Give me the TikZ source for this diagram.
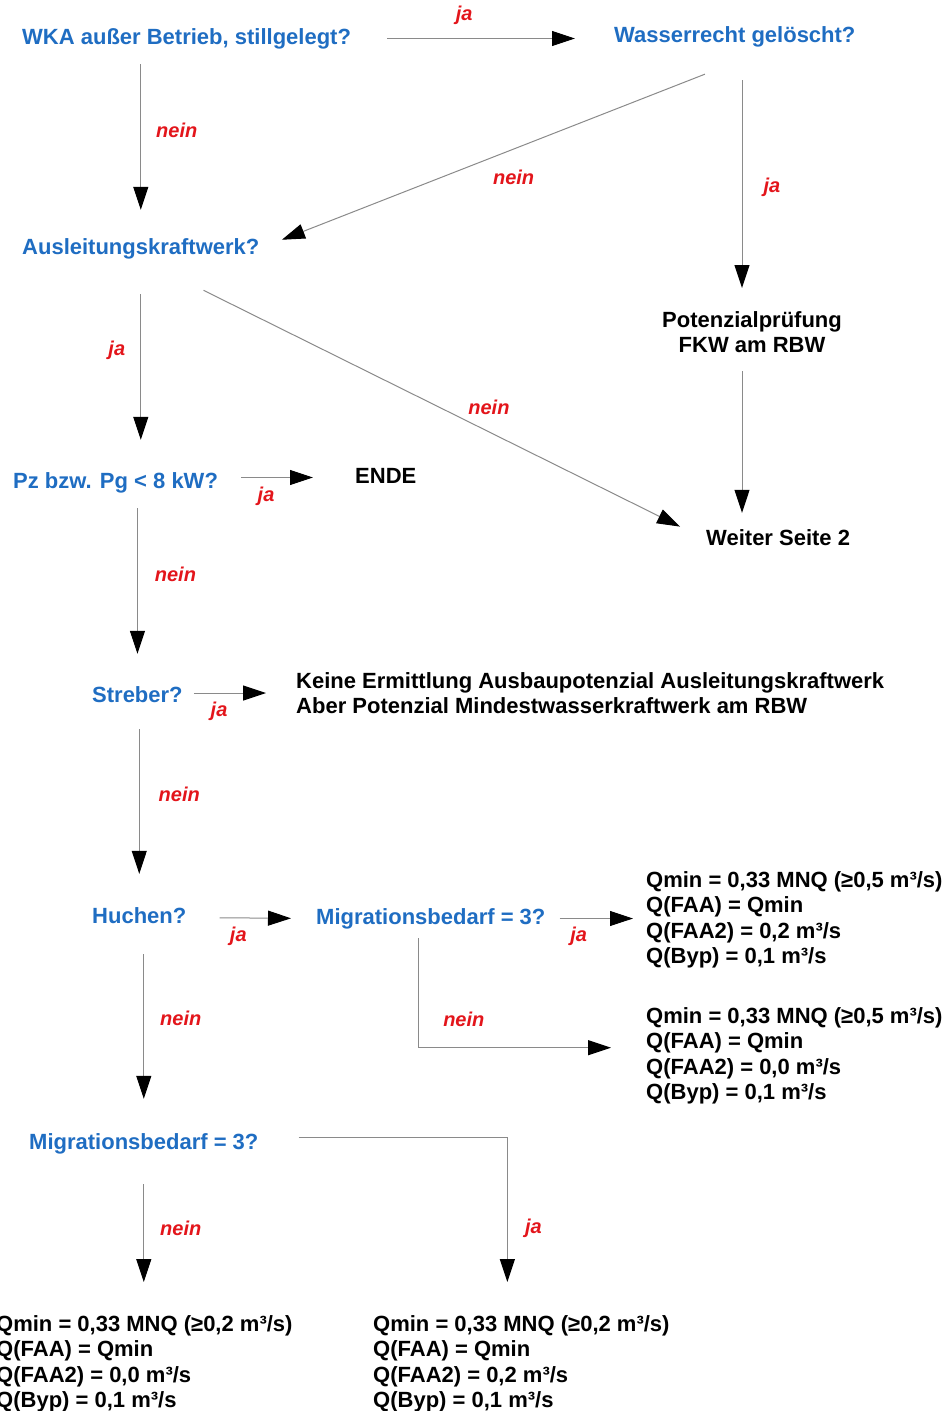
\documentclass[tikz,border=0pt]{standalone}
\usepackage{fontspec}
\setmainfont{Liberation Sans}
\usepackage{tikz}
\usetikzlibrary{arrows.meta}
\definecolor{askblue}{HTML}{1F6DC2}
\definecolor{labelred}{HTML}{E3151B}
\definecolor{linegray}{HTML}{8A8A8A}

\begin{document}
\begin{tikzpicture}[
  x=1pt, y=-1pt,
  base/.style  = {inner sep=0pt, font=\bfseries\fontsize{22}{25.5}\selectfont},
  ask/.style   = {base, text=askblue, text height=16pt, text depth=5pt, anchor=west},
  endtxt/.style = {base, text=black, text height=16pt, text depth=5pt, anchor=west},
  note/.style  = {base, text=black, align=left, anchor=north west},
  lbl/.style   = {inner sep=0pt, text=labelred, font=\bfseries\itshape\fontsize{20}{24}\selectfont},
  flow/.style  = {-{Triangle[length=23pt, width=15pt, color=black]}, draw=linegray, line width=1pt},
]
\useasboundingbox (0,0) rectangle (947,1411);

%% ---------------------------------------------------------------- questions
\node[ask] (wka)    at (22,38.5)   {WKA außer Betrieb, stillgelegt?};
\node[ask] (wasser) at (614,36.5)  {Wasserrecht gelöscht?};
\node[ask] (ausl)   at (22,248.5)  {Ausleitungskraftwerk?};
\node[ask] (pz)     at (13,482.5)  {Pz bzw. Pg < 8 kW?};
\node[ask] (streber) at (92,696.5) {Streber?};
\node[ask] (huchen) at (92,917.5)  {Huchen?};
\node[ask] (migr1)  at (316,918.5) {Migrationsbedarf = 3?};
\node[ask] (migr2)  at (29,1143.5) {Migrationsbedarf = 3?};

%% ---------------------------------------------------------------- results
\node[note, align=center, anchor=north] (pot) at (752,311) {Potenzialprüfung\\FKW am RBW};
\node[endtxt] (weiter) at (706,539.5) {Weiter Seite 2};
\node[endtxt] (ende)   at (355,477.5) {ENDE};
\node[note] (keine) at (296,672) {Keine Ermittlung Ausbaupotenzial Ausleitungskraftwerk\\Aber Potenzial Mindestwasserkraftwerk am RBW};
\node[note] (box1) at (646,871)  {Qmin = 0,33 MNQ (≥0,5 m³/s)\\Q(FAA) = Qmin\\Q(FAA2) = 0,2 m³/s\\Q(Byp) = 0,1 m³/s};
\node[note] (box2) at (646,1007) {Qmin = 0,33 MNQ (≥0,5 m³/s)\\Q(FAA) = Qmin\\Q(FAA2) = 0,0 m³/s\\Q(Byp) = 0,1 m³/s};
\node[note] (box3) at (-4,1315)  {Qmin = 0,33 MNQ (≥0,2 m³/s)\\Q(FAA) = Qmin\\Q(FAA2) = 0,0 m³/s\\Q(Byp) = 0,1 m³/s};
\node[note] (box4) at (373,1315) {Qmin = 0,33 MNQ (≥0,2 m³/s)\\Q(FAA) = Qmin\\Q(FAA2) = 0,2 m³/s\\Q(Byp) = 0,1 m³/s};

%% ---------------------------------------------------------------- connectors
\draw[flow, shorten <=36pt, shorten >=39pt] (wka.east) -- (wka.east -| wasser.west)
  node[lbl, pos=.43, yshift=23pt] {ja};
\draw[flow, shorten <=74pt, shorten >=24pt] ([xshift=39pt]wasser.south) -- (ausl.east)
  node[lbl, pos=.506, yshift=-28pt] {nein};
\draw[flow, shorten <=33pt, shorten >=23pt] ([xshift=-10pt]pot.north |- wasser.south) -- ([xshift=-10pt]pot.north)
  node[lbl, midway, xshift=30pt, yshift=-8pt] {ja};
\draw[flow, shorten <=15pt, shorten >=28pt] (wka.south -| ausl.north) -- (ausl.north)
  node[lbl, pos=.43, xshift=36pt] {nein};
\draw[flow, shorten <=35pt, shorten >=32pt] (ausl.south) -- (ausl.south |- pz.north)
  node[lbl, pos=.43, xshift=-24pt] {ja};
\draw[flow, shorten <=70pt, shorten >=29pt] (ausl.south) -- (weiter.west)
  node[lbl, pos=.616, yshift=25pt] {nein};
\draw[flow, shorten <=18pt, shorten >=16pt] ([xshift=-10pt]pot.south) -- ([xshift=-10pt]pot.south |- weiter.north);
\draw[flow, shorten <=23pt, shorten >=42pt] (pz.east |- ende.west) -- (ende.west)
  node[lbl, pos=.35, yshift=-19pt] {ja};
\draw[flow, shorten <=15pt, shorten >=32pt] (pz.south -| streber.north) -- (streber.north)
  node[lbl, pos=.42, xshift=38pt] {nein};
\draw[flow, shorten <=11pt, shorten >=30pt] (streber.east |- keine.west) -- (keine.west)
  node[lbl, pos=.32, yshift=-18pt] {ja};
\draw[flow, shorten <=22pt, shorten >=33pt] (streber.south -| huchen.north) -- (huchen.north)
  node[lbl, pos=.435, xshift=40pt] {nein};
\draw[flow, shorten <=33pt, shorten >=25pt] (huchen.east) -- (migr1.west)
  node[lbl, pos=.4, yshift=-18pt] {ja};
\draw[flow, shorten <=14pt, shorten >=13pt] (migr1.east) -- (migr1.east -| box1.west)
  node[lbl, pos=.33, yshift=-18pt] {ja};
\draw[flow, shorten <=9pt, shorten >=35pt] ([xshift=-12pt]migr1.south) |- ([yshift=8pt]box2.west)
  node[lbl, pos=.38, xshift=45pt] {nein};
\draw[flow, shorten <=26pt, shorten >=34pt] (huchen.south -| migr2.north) -- (migr2.north)
  node[lbl, pos=.44, xshift=37pt] {nein};
\draw[flow, shorten <=30pt, shorten >=33pt] (migr2.south) -- (migr2.south |- box3.north)
  node[lbl, pos=.46, xshift=37pt] {nein};
\draw[flow, shorten <=40pt, shorten >=33pt] ([yshift=6pt]migr2.east) -| ([xshift=-14pt]box4.north)
  node[lbl, pos=.756, xshift=26pt] {ja};
\end{tikzpicture}
\end{document}
